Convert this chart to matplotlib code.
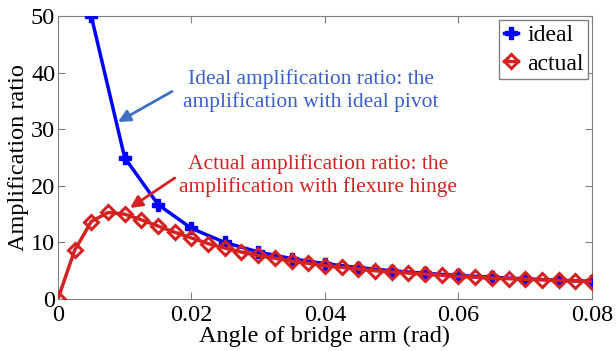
import matplotlib
matplotlib.use("Agg")
import matplotlib.pyplot as plt

# angle of bridge arm (rad)
x_ideal = [0.005, 0.01, 0.015, 0.02, 0.025, 0.03, 0.035, 0.04, 0.045, 0.05,
           0.055, 0.06, 0.065, 0.07, 0.075, 0.08]
ideal = [50.0, 25.0, 16.7, 12.5, 10.0, 8.33, 7.14, 6.25, 5.56, 5.0,
         4.55, 4.17, 3.85, 3.57, 3.33, 3.13]

x_actual = [0.0, 0.0025, 0.005, 0.0075, 0.01, 0.0125, 0.015, 0.0175, 0.02, 0.0225,
            0.025, 0.0275, 0.03, 0.0325, 0.035, 0.0375, 0.04, 0.0425, 0.045, 0.0475,
            0.05, 0.0525, 0.055, 0.0575, 0.06, 0.0625, 0.065, 0.0675, 0.07, 0.0725,
            0.075, 0.0775, 0.08]
actual = [0.0, 8.6, 13.7, 15.3, 15.0, 14.0, 12.9, 11.8, 10.8, 9.8,
          9.0, 8.3, 7.7, 7.2, 6.7, 6.3, 5.9, 5.6, 5.3, 5.0,
          4.8, 4.6, 4.4, 4.2, 4.0, 3.85, 3.7, 3.6, 3.5, 3.4,
          3.3, 3.2, 3.1]

xticks = [0, 0.02, 0.04, 0.06, 0.08]
xtick_labels = ["0", "0.02", "0.04", "0.06", "0.08"]
yticks = [0, 10, 20, 30, 40, 50]

plt.rcParams['font.family'] = ['Liberation Serif', 'DejaVu Serif']

blue = '#0000ff'
red = '#d42222'
gray = '#808080'

fig = plt.figure(figsize=(6.16, 3.51), dpi=100)
ax = fig.add_axes([0.094, 0.148, 0.867, 0.806])

ax.plot(x_ideal, ideal, color=blue, lw=2.5, marker='P', ms=9, label='ideal', zorder=3)
ax.plot(x_actual, actual, color=red, lw=2.5, marker='D', ms=7.5, mfc='none', mew=2.2,
        label='actual', zorder=4)

ax.set_xlim(0, 0.08)
ax.set_ylim(0, 50)
ax.set_xticks(xticks)
ax.set_xticklabels(xtick_labels)
ax.set_yticks(yticks)
ax.tick_params(direction='in', top=True, right=True, labelsize=17.5, colors=gray,
               labelcolor='black', length=5)
ax.tick_params(axis='x', pad=4)
ax.tick_params(axis='y', pad=2)
for s in ax.spines.values():
    s.set_color(gray)

ax.set_xlabel("Angle of bridge arm (rad)", fontsize=17.5, labelpad=0)
ax.set_ylabel("Amplification ratio", fontsize=17.5, labelpad=1)

arrow_blue = dict(arrowstyle='-|>', color='#3f6fc0', lw=2, mutation_scale=18,
                  shrinkA=0, shrinkB=0)
arrow_red = dict(arrowstyle='-|>', color=red, lw=2, mutation_scale=18,
                 shrinkA=0, shrinkB=0)

ax.text(0.0379, 36.9, "Ideal amplification ratio: the\namplification with ideal pivot",
        ha='center', va='center', color='#3a5fcd', fontsize=15.5, linespacing=1.2,
        zorder=5)
ax.annotate("", xy=(0.0090, 31.3), xytext=(0.0171, 36.7), arrowprops=arrow_blue)
ax.text(0.0390, 21.9, "Actual amplification ratio: the\namplification with flexure hinge",
        ha='center', va='center', color=red, fontsize=15.5, linespacing=1.2)
ax.annotate("", xy=(0.0108, 16.1), xytext=(0.0175, 21.4), arrowprops=arrow_red)

leg = ax.legend(loc='upper right', fontsize=17, handlelength=0.6, handletextpad=0.4,
                borderpad=0.2, labelspacing=0.3, fancybox=False, framealpha=1,
                borderaxespad=0.15)
leg.get_frame().set_edgecolor(gray)

fig.savefig("out.png", dpi=100)
